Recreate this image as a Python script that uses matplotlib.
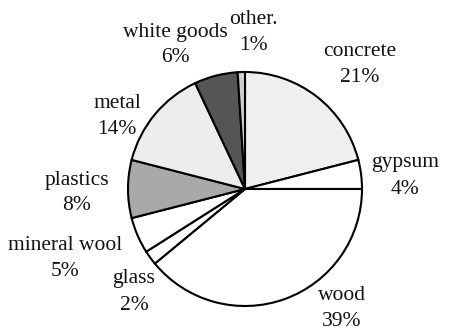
import matplotlib
matplotlib.use("Agg")
import matplotlib.pyplot as plt

# waste composition, clockwise from 12 o'clock
materials = ["concrete", "gypsum", "wood", "glass", "mineral wool",
             "plastics", "metal", "white goods", "other."]
shares = [21, 4, 39, 2, 5, 8, 14, 6, 1]
fills = ["#efefef", "white", "white", "white", "white",
         "#a9a9a9", "#ededed", "#555555", "#cfcfcf"]

# label anchor points (pixels from top-left)
label_xy = [(360, 65), (405, 176), (342, 309), (134, 292), (65, 259),
            (77, 193), (117, 116), (175, 45), (253, 33)]

W, H = 451, 333
fig = plt.figure(figsize=(W / 100, H / 100), dpi=100)
ax = fig.add_axes([0, 0, 1, 1])

ax.pie(shares, colors=fills, startangle=90, counterclock=False,
       center=(245, H - 189), radius=117, frame=True,
       wedgeprops=dict(edgecolor="black", linewidth=1.5))
ax.set_xlim(0, W)
ax.set_ylim(0, H)
ax.set_aspect("equal")
ax.axis("off")

for name, val, (x, y) in zip(materials, shares, label_xy):
    ax.text(x, H - y, f"{name}\n{val}%", ha="center", va="center",
            family="Liberation Serif", fontsize=15.5, color="#111111",
            linespacing=1.5)

fig.savefig("out.png", dpi=100)
